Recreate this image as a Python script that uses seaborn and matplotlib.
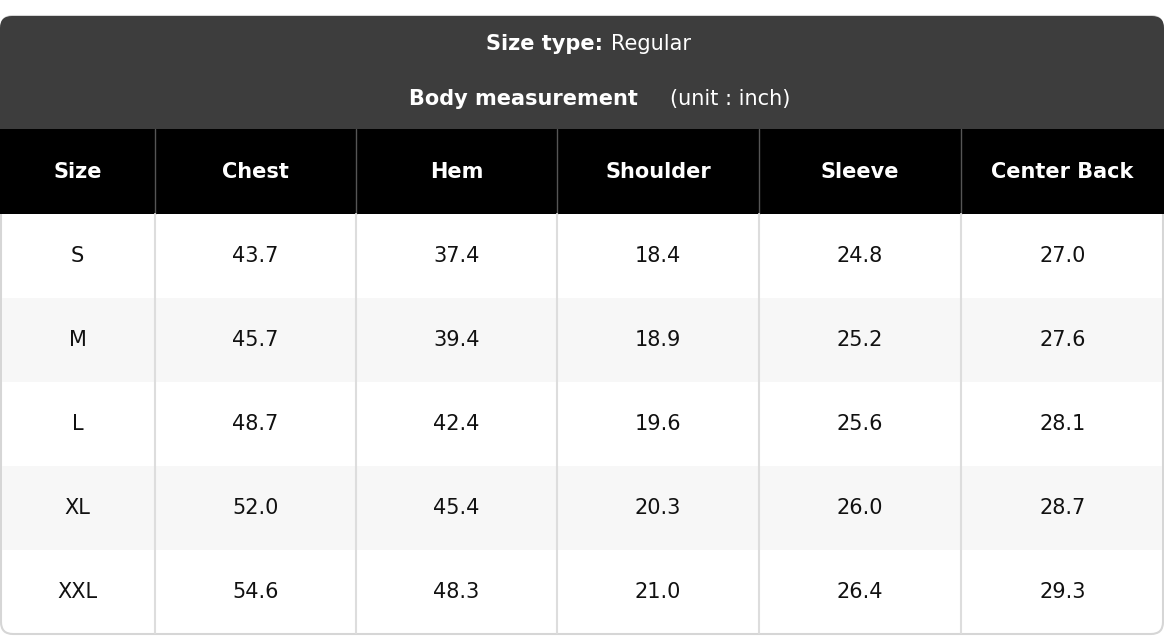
# size chart table rendered with matplotlib patches on a pixel-scale axes
import matplotlib.pyplot as plt
from matplotlib.patches import FancyBboxPatch, Rectangle
import seaborn as sns

sizes = ["S", "M", "L", "XL", "XXL"]
columns = ["Size", "Chest", "Hem", "Shoulder", "Sleeve", "Center Back"]
chest = [43.7, 45.7, 48.7, 52.0, 54.6]
hem = [37.4, 39.4, 42.4, 45.4, 48.3]
shoulder = [18.4, 18.9, 19.6, 20.3, 21.0]
sleeve = [24.8, 25.2, 25.6, 26.0, 26.4]
center_back = [27.0, 27.6, 28.1, 28.7, 29.3]

W, H = 1164, 636
col_edges = [0, 155, 356, 557, 759, 961, 1164]
top, title_bottom, head_bottom, row_h = 16, 129, 214, 84

sns.set_theme(style="white")
plt.rcParams["font.family"] = ["DejaVu Sans"]
fig = plt.figure(figsize=(W / 100, H / 100), dpi=100)
ax = fig.add_axes([0, 0, 1, 1])
ax.set_xlim(0, W)
ax.set_ylim(H, 0)
ax.axis("off")

# outer rounded frame and dark title block
ax.add_patch(FancyBboxPatch((1, top), W - 2, H - top - 2, boxstyle="round,pad=0,rounding_size=12",
                            fc="white", ec="#d6d6d6", lw=1.5))
ax.add_patch(FancyBboxPatch((0, top), W, 60, boxstyle="round,pad=0,rounding_size=12",
                            fc="#3d3d3d", ec="none"))
ax.add_patch(Rectangle((0, top + 30), W, title_bottom - top - 30, fc="#3d3d3d", ec="none"))
ax.add_patch(Rectangle((0, title_bottom), W, head_bottom - title_bottom, fc="black", ec="none"))

ax.text(603, 44, "Size type:", color="white", fontsize=15, fontweight="bold", ha="right", va="center")
ax.text(611, 44, "Regular", color="white", fontsize=15, ha="left", va="center")
ax.text(638, 99, "Body measurement", color="white", fontsize=15, fontweight="bold", ha="right", va="center")
ax.text(670, 99, "(unit : inch)", color="white", fontsize=15, ha="left", va="center")

rows = list(zip(sizes, chest, hem, shoulder, sleeve, center_back))
for i, row in enumerate(rows):
    y0 = head_bottom + i * row_h
    if i % 2 == 1:
        ax.add_patch(Rectangle((2, y0), W - 4, row_h, fc="#f7f7f7", ec="none"))
    for j, val in enumerate(row):
        xc = (col_edges[j] + col_edges[j + 1]) / 2
        label = val if j == 0 else f"{val:.1f}"
        ax.text(xc, y0 + row_h / 2, label, fontsize=15, ha="center", va="center", color="#111111")

for j, name in enumerate(columns):
    xc = (col_edges[j] + col_edges[j + 1]) / 2
    ax.text(xc, (title_bottom + head_bottom) / 2, name, color="white", fontsize=15,
            fontweight="bold", ha="center", va="center")

for x in col_edges[1:-1]:
    ax.plot([x, x], [title_bottom, head_bottom], color="#555555", lw=1)
    ax.plot([x, x], [head_bottom, H - 3], color="#dddddd", lw=1.5)

fig.savefig("out.png", dpi=100)
